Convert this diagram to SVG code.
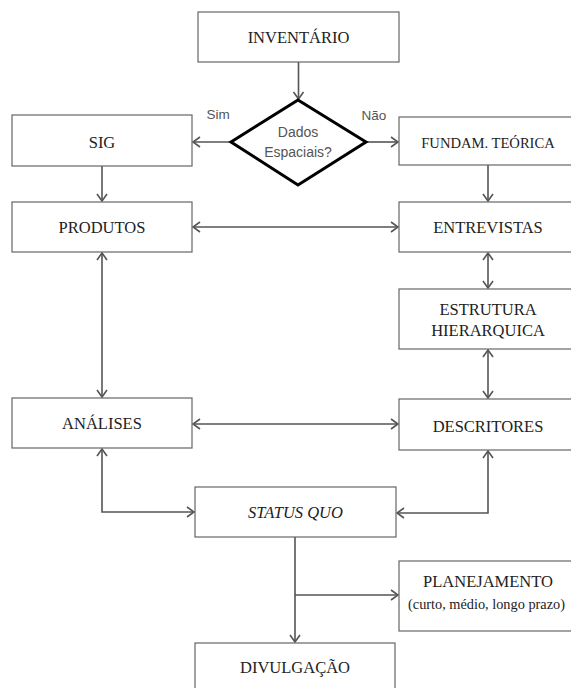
<svg xmlns="http://www.w3.org/2000/svg" width="571" height="688" viewBox="0 0 571 688">
<style>
.box{fill:#fff;stroke:#666;stroke-width:1.2}
.t{font-family:"Liberation Serif","Times New Roman",serif;font-size:16.5px;fill:#222;text-anchor:middle}
.t.f{font-size:14.6px}
.t.p{font-size:14.3px}
.s{font-family:"Liberation Sans",Arial,sans-serif;fill:#555;text-anchor:middle}
.c{fill:none;stroke:#555;stroke-width:1.6}
</style>
<defs>
<marker id="a" markerUnits="userSpaceOnUse" markerWidth="10" markerHeight="12" viewBox="0 0 10 12" refX="9" refY="6" orient="auto-start-reverse">
<path d="M2,1 L9,6 L2,11" fill="none" stroke="#555" stroke-width="1.6"/>
</marker>
</defs>
<rect width="571" height="688" fill="#fff"/>
<g id="connectors">
<path class="c" d="M298.5,62 V99" marker-end="url(#a)"/>
<path class="c" d="M231,142 H193" marker-end="url(#a)"/>
<path class="c" d="M366,142 H398" marker-end="url(#a)"/>
<path class="c" d="M102,166 V201" marker-end="url(#a)"/>
<path class="c" d="M488,165 V201" marker-end="url(#a)"/>
<path class="c" d="M193,227 H398" marker-start="url(#a)" marker-end="url(#a)"/>
<path class="c" d="M488,253 V288" marker-start="url(#a)" marker-end="url(#a)"/>
<path class="c" d="M102,253 V397" marker-start="url(#a)" marker-end="url(#a)"/>
<path class="c" d="M488,350 V398" marker-start="url(#a)" marker-end="url(#a)"/>
<path class="c" d="M193,424 H398" marker-start="url(#a)" marker-end="url(#a)"/>
<path class="c" d="M102,449 V512 H194" marker-start="url(#a)" marker-end="url(#a)"/>
<path class="c" d="M488,451 V513 H397" marker-start="url(#a)" marker-end="url(#a)"/>
<path class="c" d="M295,537 V642" marker-end="url(#a)"/>
<path class="c" d="M295,595 H398" marker-end="url(#a)"/>
</g>
<g id="inventario"><rect class="box" x="198" y="12" width="201" height="50"/><text class="t" x="298.5" y="43">INVENTÁRIO</text></g>
<g id="decisao">
<polygon points="298,100 366,142 298,185 231,142" fill="#fff" stroke="#000" stroke-width="3" stroke-linejoin="miter"/>
<text class="s" x="298" y="137" font-size="14">Dados</text>
<text class="s" x="298" y="157" font-size="14">Espaciais?</text>
</g>
<g id="sim"><text class="s" x="218" y="119" font-size="13.5">Sim</text></g>
<g id="nao"><text class="s" x="374" y="120" font-size="13.5">Não</text></g>
<g id="sig"><rect class="box" x="12" y="115" width="180" height="51"/><text class="t" x="102" y="148">SIG</text></g>
<g id="fundam"><rect class="box" x="399" y="117" width="178" height="48"/><text class="t f" x="488" y="148">FUNDAM. TEÓRICA</text></g>
<g id="produtos"><rect class="box" x="12" y="202" width="180" height="50"/><text class="t" x="102" y="233">PRODUTOS</text></g>
<g id="entrevistas"><rect class="box" x="399" y="202" width="178" height="50"/><text class="t" x="488" y="233">ENTREVISTAS</text></g>
<g id="estrutura"><rect class="box" x="399" y="289" width="178" height="60"/><text class="t" x="488" y="315">ESTRUTURA</text><text class="t" x="488" y="336">HIERARQUICA</text></g>
<g id="analises"><rect class="box" x="12" y="398" width="180" height="50"/><text class="t" x="102" y="429">ANÁLISES</text></g>
<g id="descritores"><rect class="box" x="399" y="399" width="178" height="51"/><text class="t" x="488" y="432">DESCRITORES</text></g>
<g id="statusquo"><rect class="box" x="195" y="487" width="201" height="50"/><text class="t" x="295.5" y="518" font-style="italic">STATUS QUO</text></g>
<g id="planejamento"><rect class="box" x="399" y="561" width="178" height="70"/><text class="t" x="488" y="587">PLANEJAMENTO</text><text class="t p" x="486.5" y="609">(curto, médio, longo prazo)</text></g>
<g id="divulgacao"><rect class="box" x="195" y="643" width="200" height="50"/><text class="t" x="295" y="673">DIVULGAÇÃO</text></g>
</svg>
